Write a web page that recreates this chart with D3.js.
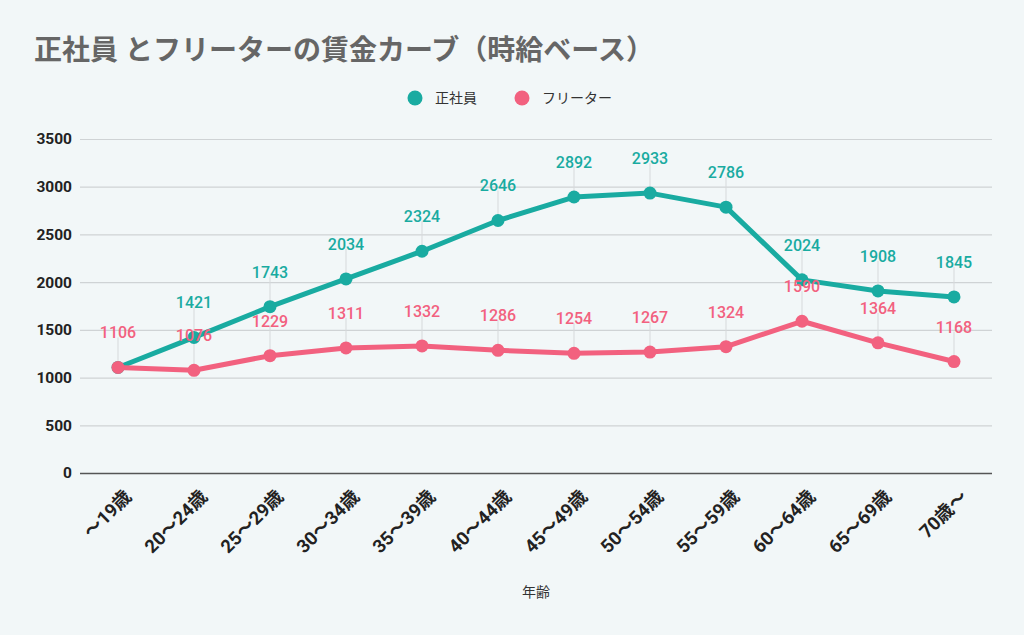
<!DOCTYPE html>
<html><head><meta charset="utf-8">
<script src="https://cdn.jsdelivr.net/npm/d3@7"></script>
<style>
body{margin:0;background:#f2f7f8;}
svg{display:block;}
</style></head>
<body>
<svg id="chart" width="1024" height="635"></svg>
<script>
const categories = ["〜19歳","20〜24歳","25〜29歳","30〜34歳","35〜39歳","40〜44歳","45〜49歳","50〜54歳","55〜59歳","60〜64歳","65〜69歳","70歳〜"];
const seishain = [1106,1421,1743,2034,2324,2646,2892,2933,2786,2024,1908,1845];
const freeter = [1106,1076,1229,1311,1332,1286,1254,1267,1324,1590,1364,1168];
const seishainShowLabel = [false,true,true,true,true,true,true,true,true,true,true,true];
const yTicks = [0,500,1000,1500,2000,2500,3000,3500];
const seriesNames = ["正社員","フリーター"];
const colors = ["#19aba1","#f2617f"];

const svg = d3.select("#chart");
const font = "Roboto, 'Noto Sans CJK JP', sans-serif";
const pLeft = 80, pRight = 992, pTop = 139, pBottom = 473;

const x = d3.scalePoint().domain(categories).range([pLeft, pRight]).padding(0.5);
const y = d3.scaleLinear().domain([0, 3500]).range([pBottom, pTop]);

svg.append("rect").attr("width",1024).attr("height",635).attr("fill","#f2f7f8");

svg.append("text").attr("x",34).attr("y",60).attr("font-family",font)
  .attr("font-size",28).attr("font-weight","bold").attr("fill","#666")
  .text("正社員 とフリーターの賃金カーブ（時給ベース）");

const legend = [{name:seriesNames[0],color:colors[0],cx:415},{name:seriesNames[1],color:colors[1],cx:522}];
legend.forEach(l=>{
  svg.append("circle").attr("cx",l.cx).attr("cy",98).attr("r",7.5).attr("fill",l.color);
  svg.append("text").attr("x",l.cx+20).attr("y",103).attr("font-family",font)
    .attr("font-size",14).attr("fill","#333").text(l.name);
});

const yAxis = d3.axisLeft(y).tickValues(yTicks).tickFormat(d3.format("d")).tickSize(-(pRight-pLeft)).tickPadding(8);
const gy = svg.append("g").attr("transform",`translate(${pLeft},0)`).call(yAxis);
gy.select(".domain").remove();
gy.selectAll(".tick line").attr("stroke","#cfd3d5").attr("stroke-width",1.2);
gy.selectAll(".tick text").attr("font-family",font).attr("font-size",15.5)
  .attr("font-weight","bold").attr("fill","#222");
gy.selectAll(".tick").filter(d=>d===0).select("line").attr("stroke","#555").attr("stroke-width",1.5);

const xAxis = d3.axisBottom(x).tickSize(0).tickPadding(0);
const gx = svg.append("g").attr("transform",`translate(0,${pBottom})`).call(xAxis);
gx.select(".domain").remove();
gx.selectAll(".tick text")
  .attr("font-family",font).attr("font-size",18.5).attr("font-weight","bold").attr("fill","#222")
  .attr("text-anchor","end").attr("dy",0)
  .attr("transform","translate(14,25) rotate(-45)");

svg.append("text").attr("x",536).attr("y",597).attr("text-anchor","middle")
  .attr("font-family",font).attr("font-size",14).attr("fill","#333").text("年齢");

const series = [
  {vals:seishain,color:colors[0],show:seishainShowLabel},
  {vals:freeter,color:colors[1],show:categories.map(()=>true)}
];

series.forEach(s=>{
  s.vals.forEach((v,i)=>{
    if(!s.show[i]) return;
    svg.append("line").attr("x1",x(categories[i])).attr("x2",x(categories[i]))
      .attr("y1",y(v)-30).attr("y2",y(v)).attr("stroke","#d6d9db").attr("stroke-width",1);
  });
});

const line = d3.line().x((d,i)=>x(categories[i])).y(d=>y(d));
series.forEach(s=>{
  svg.append("path").datum(s.vals).attr("d",line).attr("fill","none")
    .attr("stroke",s.color).attr("stroke-width",5).attr("stroke-linejoin","round");
  svg.selectAll(null).data(s.vals).enter().append("circle")
    .attr("cx",(d,i)=>x(categories[i])).attr("cy",d=>y(d)).attr("r",6.5).attr("fill",s.color);
});

series.forEach(s=>{
  s.vals.forEach((v,i)=>{
    if(!s.show[i]) return;
    svg.append("text").attr("x",x(categories[i])).attr("y",y(v)-29)
      .attr("text-anchor","middle").attr("font-family",font).attr("font-size",16)
      .attr("font-weight","500").attr("fill",s.color).text(v);
  });
});
</script>
</body></html>
